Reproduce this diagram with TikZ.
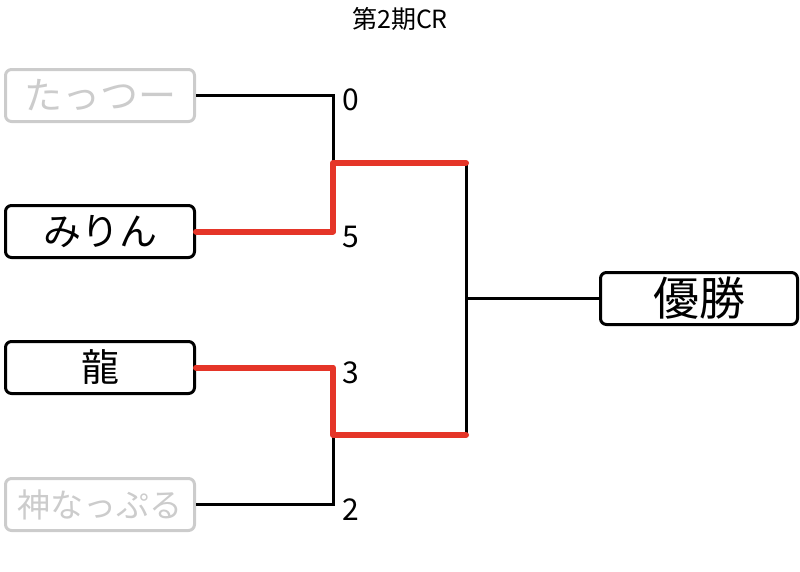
\documentclass[tikz,border=0pt]{standalone}
\usepackage{fontspec}
\setmainfont{Noto Sans CJK JP}
\usetikzlibrary{positioning}
\definecolor{winred}{RGB}{229,53,40}
\definecolor{outgray}{RGB}{204,204,204}
\newcommand{\fs}[1]{\fontsize{#1}{#1}\selectfont}

\begin{document}
\begin{tikzpicture}[x=1pt,y=-1pt,
    player/.style={draw,rounded corners=6pt,line width=3pt,inner sep=0pt,
      minimum width=189pt,minimum height=52pt,font=\fs{38}},
    lost/.style={player,draw=outgray,text=outgray},
    score/.style={anchor=west,inner sep=0pt,font=\fs{30}},
    wire/.style={line width=3pt},
    redwire/.style={winred,line width=6pt,line cap=round,line join=round}]
  \useasboundingbox (0,0) rectangle (800,571);
  \node[font=\fs{25}] (title) at (400,19) {第2期CR};

  % players
  \node[lost] (tatsu) at (100,95.5) {たっつー};
  \node[player] (mirin) at (100,231.5) {みりん};
  \node[player] (ryu) at (100,367.5) {龍};
  \node[lost,font=\fs{33}] (kami) at (100,504.5) {神なっぷる};
  \node[player,minimum width=197pt,font=\fs{46}] (champ) at (699,298.5) {優勝};

  % bracket joints
  \coordinate (m1) at (333,163);
  \coordinate (m2) at (333,435);
  \coordinate (f1) at (466,163);
  \coordinate (f2) at (466,435);

  \draw[wire] (tatsu.east) -| (m1);
  \draw[wire] (kami.east) -| (m2);
  \draw[wire] (f1) -- (f2);
  \draw[wire] (champ.west) -- (champ.west -| f1);
  \draw[redwire] (mirin.east) -| (m1) -- (f1);
  \draw[redwire] (ryu.east) -| (m2) -- (f2);

  % scores
  \node[score] (s1) at (342,100) {0};
  \node[score] (s2) at (342,237) {5};
  \node[score] (s3) at (342,373) {3};
  \node[score] (s4) at (342,510) {2};
\end{tikzpicture}
\end{document}
